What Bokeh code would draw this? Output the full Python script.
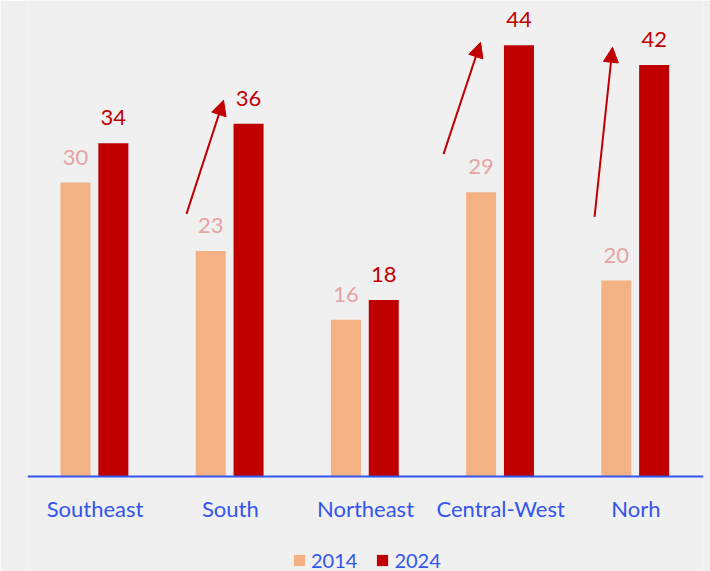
from bokeh.plotting import figure
from bokeh.models import ColumnDataSource, FactorRange, Range1d, Arrow, NormalHead, Legend, LegendItem, LabelSet
from bokeh.transform import dodge
from bokeh.core.properties import value
from bokeh.embed import file_html
from bokeh.resources import INLINE

regions = ["Southeast", "South", "Northeast", "Central-West", "Norh"]
v2014 = [30, 23, 16, 29, 20]
v2024 = [34, 36, 18, 44, 42]

# arrow annotations (category synthetic coords, value units)
arrow_x0 = [1.176, 3.077, 4.194]
arrow_y0 = [26.8, 32.9, 26.5]
arrow_x1 = [1.450, 3.351, 4.327]
arrow_y1 = [38.4, 44.3, 43.8]

BG = "#f0f0f0"
C14 = "#f4b183"
C24 = "#c00000"
L14 = "#e6a3a3"
BLUE = "#3355ee"
FONT = "Lato"

src = ColumnDataSource(dict(region=regions, v2014=v2014, v2024=v2024,
                            l2014=[str(v) for v in v2014], l2024=[str(v) for v in v2024]))

p = figure(width=710, height=571, x_range=FactorRange(*regions, range_padding=0),
           y_range=Range1d(-9.69, 48.57), output_backend="svg", toolbar_location=None,
           background_fill_color=BG, border_fill_color=BG,
           min_border_left=27, min_border_right=7, min_border_top=0, min_border_bottom=0)
p.outline_line_color = None
p.grid.visible = False
p.yaxis.visible = False

r14 = p.vbar(x=dodge("region", -0.145, range=p.x_range), top="v2014", width=0.222,
             source=src, fill_color=C14, line_color=None)
r24 = p.vbar(x=dodge("region", 0.135, range=p.x_range), top="v2024", width=0.222,
             source=src, fill_color=C24, line_color=None)

lab14 = LabelSet(x=dodge("region", -0.145, range=p.x_range), y="v2014", text="l2014", source=src,
                 text_align="center", text_baseline="bottom", y_offset=18,
                 text_color=L14, text_font=value(FONT), text_font_size="22px")
lab24 = LabelSet(x=dodge("region", 0.135, range=p.x_range), y="v2024", text="l2024", source=src,
                 text_align="center", text_baseline="bottom", y_offset=18,
                 text_color=C24, text_font=value(FONT), text_font_size="22px")
p.add_layout(lab14)
p.add_layout(lab24)

for xs, ys, xe, ye in zip(arrow_x0, arrow_y0, arrow_x1, arrow_y1):
    p.add_layout(Arrow(end=NormalHead(size=15, fill_color=C24, line_color=C24),
                       x_start=xs, y_start=ys, x_end=xe, y_end=ye,
                       line_color=C24, line_width=2))

ax = p.xaxis[0]
ax.fixed_location = 0
ax.axis_line_color = BLUE
ax.axis_line_width = 2
ax.major_tick_line_color = None
ax.minor_tick_line_color = None
ax.major_label_standoff = 12
ax.major_label_text_color = BLUE
ax.major_label_text_font = FONT
ax.major_label_text_font_size = "22px"

legend = Legend(items=[LegendItem(label="2014", renderers=[r14]),
                       LegendItem(label="2024", renderers=[r24])],
                orientation="horizontal", location=(265, -1),
                glyph_width=14, glyph_height=14, label_standoff=5, spacing=18,
                label_text_color=BLUE, label_text_font=FONT, label_text_font_size="20px",
                background_fill_alpha=0, border_line_color=None, margin=0, padding=0)
p.add_layout(legend)

open("out.html", "w").write(file_html(p, INLINE))
